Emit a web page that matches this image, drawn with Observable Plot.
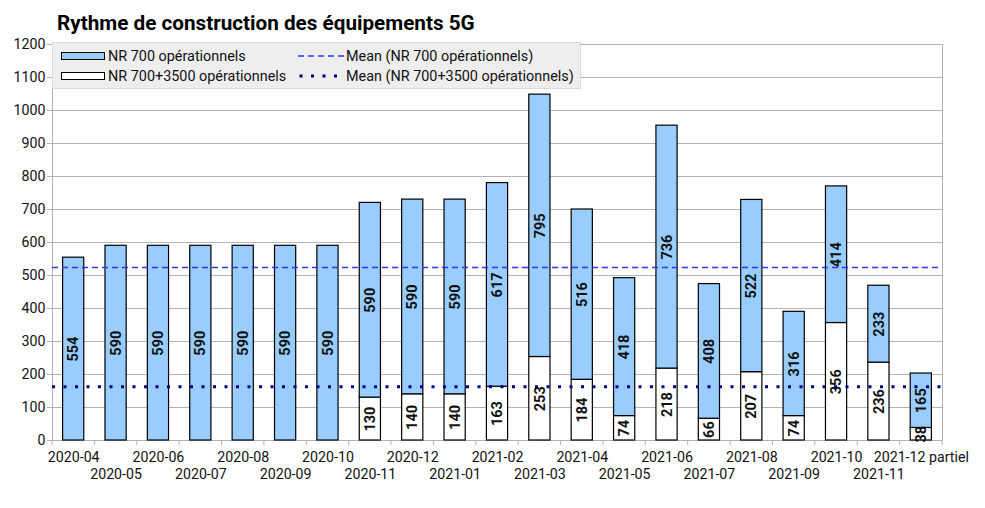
<!DOCTYPE html>
<html>
<head>
<meta charset="utf-8">
<script src="https://cdn.jsdelivr.net/npm/d3@7"></script>
<script src="https://cdn.jsdelivr.net/npm/@observablehq/plot@0.6"></script>
<style>
  body { margin: 0; background: #fff; font-family: Roboto, "Liberation Sans", sans-serif; }
  #wrap { position: relative; width: 985px; height: 508px; }
  #title { height: 36px; padding-left: 57px; font-size: 20.7px; font-weight: bold; line-height: 46px; color: #000; }
  #legend { position: absolute; left: 52px; top: 42px; width: 527px; height: 45px; background: #eeeeee; border: 1px dotted #c8c8c8; font-size: 14.4px; color: #111; }
  .item { position: absolute; display: flex; align-items: center; height: 20px; }
  .sw { width: 42px; height: 6px; border: 1px solid #000; margin-right: 3px; }
</style>
</head>
<body>
<div id="wrap">
  <div id="title">Rythme de construction des équipements 5G</div>
  <div id="chart"></div>
  <div id="legend">
    <div class="item" style="left:8px; top:3px;"><div class="sw" style="background:#99ccff"></div>NR 700 opérationnels</div>
    <div class="item" style="left:8px; top:23px;"><div class="sw" style="background:#fff"></div>NR 700+3500 opérationnels</div>
    <div class="item" style="left:245px; top:3px;"><svg width="46" height="4" style="margin-right:2px"><line x1="0" x2="46" y1="2" y2="2" stroke="#3333ff" stroke-width="1.5" stroke-dasharray="6,4"/></svg>Mean (NR 700 opérationnels)</div>
    <div class="item" style="left:245px; top:23px;"><svg width="46" height="4" style="margin-right:2px"><line x1="1.5" x2="46" y1="2" y2="2" stroke="#000080" stroke-width="3" stroke-dasharray="3,8.5"/></svg>Mean (NR 700+3500 opérationnels)</div>
  </div>
</div>
<script>
const categories = ["2020-04","2020-05","2020-06","2020-07","2020-08","2020-09","2020-10","2020-11","2020-12","2021-01","2021-02","2021-03","2021-04","2021-05","2021-06","2021-07","2021-08","2021-09","2021-10","2021-11","2021-12 partiel"];
const nr700 = [554,590,590,590,590,590,590,590,590,590,617,795,516,418,736,408,522,316,414,233,165];
const nr3500 = [null,null,null,null,null,null,null,130,140,140,163,253,184,74,218,66,207,74,356,236,38];
const yTicks = [0,100,200,300,400,500,600,700,800,900,1000,1100,1200];

const rows = categories.map((c, i) => ({
  cat: c,
  blue: nr700[i],
  white: nr3500[i] ?? 0,
  hasWhite: nr3500[i] != null
}));
const meanBlue = d3.mean(nr700);
const meanWhite = d3.mean(nr3500);

const W = 985, H = 472, mL = 52, mR = 43, mT = 8, mB = 68;
const grid = "#b3b3b3";
const fs = 14.2;

const boundaryTicks = (index, scales, values, dims) => {
  const g = document.createElementNS("http://www.w3.org/2000/svg", "g");
  const n = categories.length;
  const x0 = dims.marginLeft, x1 = dims.width - dims.marginRight;
  const yb = dims.height - dims.marginBottom;
  for (let i = 0; i <= n; i++) {
    const x = x0 + (x1 - x0) * i / n;
    const l = document.createElementNS("http://www.w3.org/2000/svg", "line");
    l.setAttribute("x1", x); l.setAttribute("x2", x);
    l.setAttribute("y1", yb); l.setAttribute("y2", yb + 5);
    l.setAttribute("stroke", grid);
    g.appendChild(l);
  }
  return g;
};

const even = categories.filter((c, i) => i % 2 === 0);
const odd = categories.filter((c, i) => i % 2 === 1);

const chart = Plot.plot({
  width: W, height: H,
  marginLeft: mL, marginRight: mR, marginTop: mT, marginBottom: mB,
  style: { fontFamily: "Roboto, 'Liberation Sans', sans-serif", fontSize: "14px", color: "#111", background: "#fff" },
  x: { domain: categories, paddingInner: 0.5, paddingOuter: 0.25, round: false, axis: null },
  y: { domain: [0, 1200], axis: null },
  marks: [
    Plot.gridY(yTicks, { stroke: grid, strokeOpacity: 1 }),
    Plot.frame({ stroke: grid }),
    Plot.axisY(yTicks, { tickSize: 5, tickPadding: 2, stroke: grid, fontSize: fs, fill: "#111", label: null, tickFormat: d => String(d) }),
    boundaryTicks,
    Plot.text(even, { x: d => d, frameAnchor: "bottom", lineAnchor: "middle", dy: 17, fontSize: fs, fill: "#111" }),
    Plot.text(odd, { x: d => d, frameAnchor: "bottom", lineAnchor: "middle", dy: 34, fontSize: fs, fill: "#111" }),
    Plot.barY(rows.filter(d => d.hasWhite), { x: "cat", y1: 0, y2: "white", fill: "#ffffff", stroke: "#000", strokeWidth: 1.2 }),
    Plot.barY(rows, { x: "cat", y1: "white", y2: d => d.white + d.blue, fill: "#99ccff", stroke: "#000", strokeWidth: 1.2 }),
    Plot.text(rows, { x: "cat", y: d => d.white + d.blue / 2, text: d => String(d.blue), rotate: -90, fontSize: 14.5, fontWeight: "bold", fill: "#111" }),
    Plot.text(rows.filter(d => d.hasWhite), { x: "cat", y: d => d.white / 2, text: d => String(d.white), rotate: -90, fontSize: 14.5, fontWeight: "bold", fill: "#111" }),
    Plot.ruleY([meanBlue], { stroke: "#3333ff", strokeWidth: 1.5, strokeDasharray: "6,4" }),
    Plot.ruleY([meanWhite], { stroke: "#000080", strokeWidth: 3, strokeDasharray: "3,8.5" })
  ]
});
document.getElementById("chart").appendChild(chart);
</script>
</body>
</html>
